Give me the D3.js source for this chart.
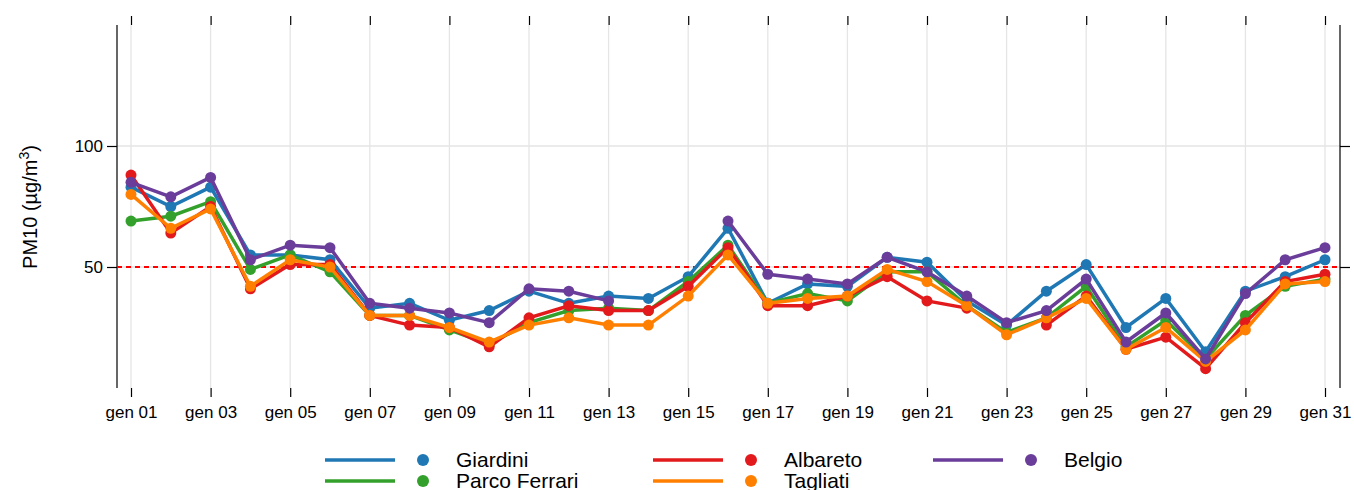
<!DOCTYPE html>
<html><head><meta charset="utf-8">
<script src="https://cdn.jsdelivr.net/npm/d3@7"></script>
<style>body{margin:0;background:#fff}text{font-family:"Liberation Sans",Arial,sans-serif}</style>
</head><body><svg id="c" width="1354" height="490"></svg>
<script>
// data
const days = d3.range(1, 32);
const giardini = [83,75,83,55,55,53,33,35,28,32,40,35,38,37,46,66,35,43,42,54,52,36,26,40,51,25,37,15,40,46,53];
const parcoFerrari = [69,71,77,49,55,48,30,30,24,18,27,32,33,32,44,59,35,39,36,48,48,34,23,29,42,17,28,12,30,42,45];
const albareto = [88,64,75,41,51,51,30,26,25,17,29,34,32,32,42,58,34,34,38,46,36,33,null,26,38,16,21,8,27,44,47];
const tagliati = [80,66,74,42,53,50,30,30,25,19,26,29,26,26,38,55,35,37,38,49,44,34,22,29,37,16,25,11,24,43,44];
const belgio = [85,79,87,53,59,58,35,33,31,27,41,40,36,null,null,69,47,45,43,54,48,38,27,32,45,19,31,12,39,53,58];
const seriesNames = ["Giardini","Parco Ferrari","Albareto","Tagliati","Belgio"];
const seriesColors = ["#1f78b4","#33a02c","#e31a1c","#ff7f00","#6a3d9a"];
const yTicks = [50, 100];
const limit = 50;

const all = [giardini, parcoFerrari, albareto, tagliati, belgio];
const svg = d3.select("#c");
const L = 117, R = 1340, T = 25, B = 388;
const x = d3.scaleLinear().domain([1, 31]).range([131, 1325]);
const y = d3.scaleLinear().domain([0, 150]).range([B, T]);

// grid
svg.append("g").selectAll("line").data(days.filter(d => d % 2 == 1)).enter().append("line")
  .attr("x1", d => x(d)).attr("x2", d => x(d)).attr("y1", T).attr("y2", B)
  .attr("stroke", "#e5e5e5").attr("stroke-width", 1.3);
svg.append("g").selectAll("line").data(yTicks).enter().append("line")
  .attr("x1", L).attr("x2", R).attr("y1", d => y(d)).attr("y2", d => y(d))
  .attr("stroke", "#e5e5e5").attr("stroke-width", 1.3);

// frame sides
[L, R].forEach(px => svg.append("line").attr("x1", px).attr("x2", px).attr("y1", T).attr("y2", B)
  .attr("stroke", "#000").attr("stroke-width", 1.2));

// axes
const xb = svg.append("g").attr("transform", `translate(0,${B})`)
  .call(d3.axisBottom(x).tickValues(days.filter(d => d % 2 == 1)).tickSize(9).tickPadding(9)
    .tickFormat(d => "gen " + String(d).padStart(2, "0")));
const xt = svg.append("g").attr("transform", `translate(0,${T})`)
  .call(d3.axisTop(x).tickValues(days.filter(d => d % 2 == 1)).tickSize(9).tickFormat(""));
const yl = svg.append("g").attr("transform", `translate(${L},0)`)
  .call(d3.axisLeft(y).tickValues(yTicks).tickSize(10).tickPadding(4));
const yr = svg.append("g").attr("transform", `translate(${R},0)`)
  .call(d3.axisRight(y).tickValues(yTicks).tickSize(10).tickFormat(""));
[xb, xt, yl, yr].forEach(g => {
  g.select(".domain").remove();
  g.selectAll("line").attr("stroke", "#000").attr("stroke-width", 1.2);
  g.selectAll("text").attr("font-size", 17).attr("fill", "#000").style("font-family", "Liberation Sans, Arial");
});

svg.append("text").attr("transform", "translate(37,207) rotate(-90)").attr("text-anchor", "middle")
  .attr("font-size", 20).html('PM10 (µg/m<tspan dy="-8" font-size="14">3</tspan><tspan dy="8">)</tspan>');

// limit line
svg.append("line").attr("x1", L).attr("x2", R).attr("y1", y(limit)).attr("y2", y(limit))
  .attr("stroke", "#ff0000").attr("stroke-width", 2).attr("stroke-dasharray", "5,4");

// series
const line = d3.line().defined(d => d != null).x((d, i) => x(days[i])).y(d => y(d));
all.forEach((s, k) => {
  const g = svg.append("g");
  g.append("path").attr("d", line(s)).attr("fill", "none").attr("stroke", seriesColors[k]).attr("stroke-width", 3.5);
  g.selectAll("circle").data(s.map((v, i) => [days[i], v]).filter(p => p[1] != null)).enter().append("circle")
    .attr("cx", p => x(p[0])).attr("cy", p => y(p[1])).attr("r", 5.5).attr("fill", seriesColors[k]);
});

// legend
const legPos = [[325,460],[325,481],[653,460],[653,481],[933,460]];
seriesNames.forEach((n, k) => {
  const [lx, ly] = legPos[k];
  const g = svg.append("g");
  g.append("line").attr("x1", lx).attr("x2", lx + 70).attr("y1", ly).attr("y2", ly)
    .attr("stroke", seriesColors[k]).attr("stroke-width", 3.5);
  g.append("circle").attr("cx", lx + 98).attr("cy", ly).attr("r", 6).attr("fill", seriesColors[k]);
  g.append("text").attr("x", lx + 131).attr("y", ly + 7).attr("font-size", 21).text(n);
});
</script></body></html>
